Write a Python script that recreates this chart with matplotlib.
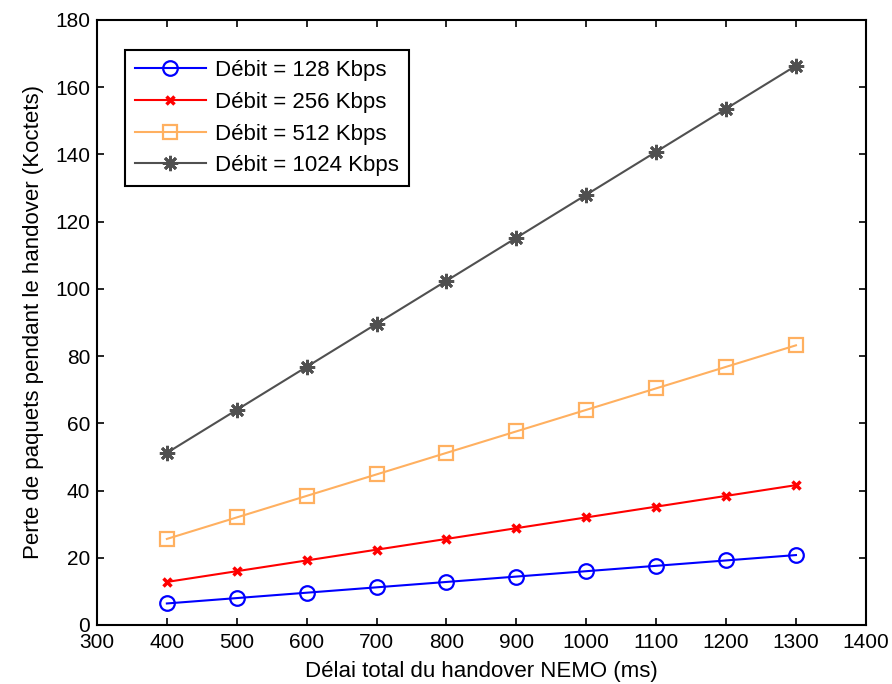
import numpy as np
import matplotlib.pyplot as plt

plt.rcParams['font.family'] = ['Liberation Sans', 'DejaVu Sans']

delai = [400, 500, 600, 700, 800, 900, 1000, 1100, 1200, 1300]
perte_128 = [6.4, 8.0, 9.6, 11.2, 12.8, 14.4, 16.0, 17.6, 19.2, 20.8]
perte_256 = [12.8, 16.0, 19.2, 22.4, 25.6, 28.8, 32.0, 35.2, 38.4, 41.6]
perte_512 = [25.6, 32.0, 38.4, 44.8, 51.2, 57.6, 64.0, 70.4, 76.8, 83.2]
perte_1024 = [51.2, 64.0, 76.8, 89.6, 102.4, 115.2, 128.0, 140.8, 153.6, 166.4]

fig = plt.figure(figsize=(8.92, 6.84), dpi=100)
ax = fig.add_axes([0.1087, 0.0863, 0.862, 0.8845])

ax.plot(delai, perte_128, color='blue', marker='o', markersize=10.5, markerfacecolor='none',
        markeredgewidth=1.6, linewidth=1.5, label='Débit = 128 Kbps')
ax.plot(delai, perte_256, color='red', marker='x', markersize=6, markeredgewidth=2.5,
        linewidth=1.5, label='Débit = 256 Kbps')
ax.plot(delai, perte_512, color='#ffb060', marker='s', markersize=10.5, markerfacecolor='none',
        markeredgewidth=1.6, linewidth=1.5, label='Débit = 512 Kbps')
ax.plot(delai, perte_1024, color='#505050', marker=(8, 2, 0), markersize=11,
        markeredgewidth=2, linewidth=1.5, label='Débit = 1024 Kbps')

ax.set_xlim(300, 1400)
ax.set_ylim(0, 180)
ax.set_xticks(np.arange(300, 1401, 100))
ax.set_yticks(np.arange(0, 181, 20))
ax.tick_params(direction='in', top=True, right=True, labelsize=15, length=5, width=1.2)
ax.tick_params(axis='x', pad=6)
ax.tick_params(axis='y', pad=5)
for s in ax.spines.values():
    s.set_linewidth(1.5)

ax.set_xlabel('Délai total du handover NEMO (ms)', fontsize=16, labelpad=6)
ax.set_ylabel('Perte de paquets pendant le handover (Koctets)', fontsize=16, labelpad=8)

leg = ax.legend(loc='upper left', bbox_to_anchor=(0.036, 0.95), borderaxespad=0,
                fontsize=16, fancybox=False, framealpha=1, edgecolor='black',
                handlelength=3.2, handletextpad=0.4, borderpad=0.45, labelspacing=0.48)
leg.get_frame().set_linewidth(1.5)

fig.savefig('out.png', dpi=100)
